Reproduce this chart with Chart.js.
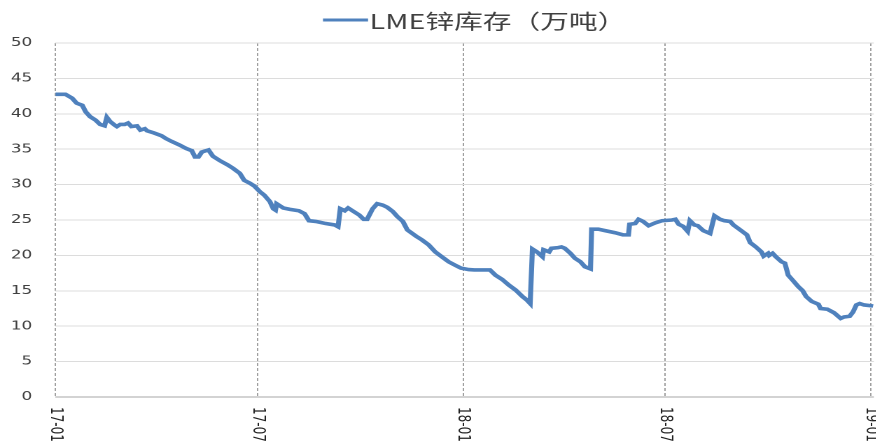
<!DOCTYPE html>
<html>
<head>
<meta charset="utf-8">
<script src="https://cdn.jsdelivr.net/npm/chart.js@4.4.1/dist/chart.umd.min.js"></script>
<style>
  html, body { margin: 0; padding: 0; background: #fff; overflow: hidden; }
  /* the reference is a horizontally stretched picture, so the chart is too */
  #wrap { width: 626px; height: 441px; transform: scaleX(1.4); transform-origin: 0 0; }
</style>
</head>
<body>
<div id="wrap"><canvas id="chart"></canvas></div>
<script>
// days since 2017-01-01
const days = [
  0, 9, 15, 19, 24, 27, 31, 36, 40, 44, 46, 49, 53, 55, 58, 62, 65, 68, 73, 76,
  80, 82, 88, 95, 99, 104, 111, 117, 122, 125, 128, 131, 135, 137, 141, 147, 154, 159, 165, 169,
  174, 178, 183, 187, 192, 195, 197, 198, 204, 210, 218, 223, 227, 233, 242, 250, 253, 255, 259, 262,
  266, 272, 276, 279, 284, 288, 293, 297, 302, 306, 311, 315, 323, 328, 334, 340, 346, 352, 358, 363,
  370, 375, 389, 394, 400, 406, 412, 418, 422, 425, 427, 431, 436, 437, 442, 444, 450, 453, 456, 461,
  465, 470, 474, 479, 480, 486, 492, 501, 508, 513, 514, 519, 522, 526, 531, 537, 543, 552, 555, 558,
  562, 566, 568, 572, 575, 580, 586, 587, 590, 595, 599, 604, 607, 613, 619, 622, 627, 632, 634, 638,
  639, 642, 645, 650, 653, 656, 660, 665, 669, 672, 677, 683, 685, 691, 697, 703, 706, 711, 714, 717,
  720, 724, 732
];
// LME zinc stocks, 10k tonnes
const stocks = [
  42.75, 42.75, 42.2, 41.5, 41.2, 40.3, 39.6, 39.1, 38.5, 38.3, 39.5, 38.9, 38.4, 38.2, 38.5, 38.5, 38.7, 38.2, 38.3, 37.7,
  37.9, 37.6, 37.3, 36.9, 36.5, 36.1, 35.6, 35.1, 34.8, 33.9, 33.9, 34.6, 34.8, 34.9, 34.0, 33.4, 32.8, 32.3, 31.6, 30.6,
  30.2, 29.8, 29.0, 28.5, 27.6, 26.6, 26.4, 27.3, 26.7, 26.5, 26.3, 25.9, 24.9, 24.8, 24.5, 24.3, 24.05, 26.6, 26.3, 26.7,
  26.3, 25.7, 25.1, 25.1, 26.6, 27.3, 27.1, 26.8, 26.2, 25.5, 24.8, 23.6, 22.7, 22.2, 21.5, 20.5, 19.8, 19.1, 18.6, 18.2,
  18.0, 17.95, 17.95, 17.2, 16.6, 15.8, 15.1, 14.2, 13.7, 13.2, 20.9, 20.5, 19.8, 20.8, 20.5, 21.0, 21.1, 21.2, 21.0, 20.3,
  19.6, 19.1, 18.4, 18.1, 23.7, 23.7, 23.5, 23.2, 22.9, 22.9, 24.4, 24.5, 25.1, 24.8, 24.2, 24.6, 24.9, 25.0, 25.1, 24.4,
  24.1, 23.4, 24.9, 24.3, 24.2, 23.5, 23.1, 23.1, 25.6, 25.1, 24.9, 24.8, 24.3, 23.6, 22.9, 21.8, 21.2, 20.5, 19.9, 20.3,
  20.0, 20.3, 19.8, 19.1, 18.9, 17.2, 16.5, 15.6, 15.0, 14.2, 13.5, 13.1, 12.5, 12.4, 11.9, 11.1, 11.3, 11.4, 12.0, 13.0,
  13.2, 13.0, 12.85
];
const tickDays = [0, 181, 365, 546, 730];
const tickLabels = ['17-01', '17-07', '18-01', '18-07', '19-01'];

// x labels read top to bottom, which Chart.js rotation can't do
const xLabels = {
  id: 'xLabels',
  afterDraw(chart) {
    const { ctx, chartArea, scales: { x } } = chart;
    ctx.save();
    ctx.font = '12px "DejaVu Sans"';
    ctx.fillStyle = '#222';
    ctx.textAlign = 'left';
    ctx.textBaseline = 'middle';
    tickDays.forEach((d, i) => {
      ctx.save();
      ctx.translate(x.getPixelForValue(d), chartArea.bottom + 10);
      ctx.rotate(Math.PI / 2);
      ctx.fillText(tickLabels[i], 0, 0);
      ctx.restore();
    });
    ctx.restore();
  }
};

// legend sits off-centre with the text right against the line
const lineLegend = {
  id: 'lineLegend',
  afterDraw(chart) {
    const ds = chart.data.datasets[0];
    const ctx = chart.ctx;
    ctx.save();
    ctx.strokeStyle = ds.borderColor;
    ctx.lineWidth = 3;
    ctx.beginPath();
    ctx.moveTo(230.7, 20);
    ctx.lineTo(262.9, 20);
    ctx.stroke();
    ctx.font = '20.5px "Noto Sans CJK SC"';
    ctx.fillStyle = '#404040';
    ctx.textAlign = 'left';
    ctx.textBaseline = 'middle';
    ctx.fillText(ds.label, 264, 21);
    ctx.restore();
  }
};

new Chart(document.getElementById('chart'), {
  type: 'line',
  data: {
    datasets: [{
      label: 'LME锌库存（万吨）',
      data: days.map((d, i) => ({ x: d, y: stocks[i] })),
      borderColor: '#4F81BD',
      backgroundColor: '#4F81BD',
      borderWidth: 3.6,
      pointRadius: 0,
      tension: 0,
      fill: false
    }]
  },
  options: {
    responsive: true,
    maintainAspectRatio: false,
    animation: false,
    devicePixelRatio: 2,
    layout: { padding: { left: 7.6, right: 0, top: 43, bottom: 44 } },
    plugins: {
      legend: { display: false },
      tooltip: { enabled: false }
    },
    scales: {
      x: {
        type: 'linear',
        min: 0,
        max: 732.7,
        afterBuildTicks: s => { s.ticks = tickDays.map(v => ({ value: v })); },
        ticks: { display: false },
        grid: { color: '#a0a0a0', lineWidth: 1, drawTicks: false, borderDash: [3, 2] },
        border: { display: false, dash: [3, 2] }
      },
      y: {
        min: 0,
        max: 50,
        afterFit: s => { s.width = 32; },
        ticks: {
          stepSize: 5,
          padding: 16.6,
          color: '#404040',
          font: { family: '"DejaVu Sans"', size: 12 }
        },
        grid: {
          color: c => (c.tick && c.tick.value === 0 ? '#a6a6a6' : '#dcdcdc'),
          lineWidth: 1,
          drawTicks: false
        },
        border: { display: false }
      }
    }
  },
  plugins: [xLabels, lineLegend]
});
</script>
</body>
</html>
